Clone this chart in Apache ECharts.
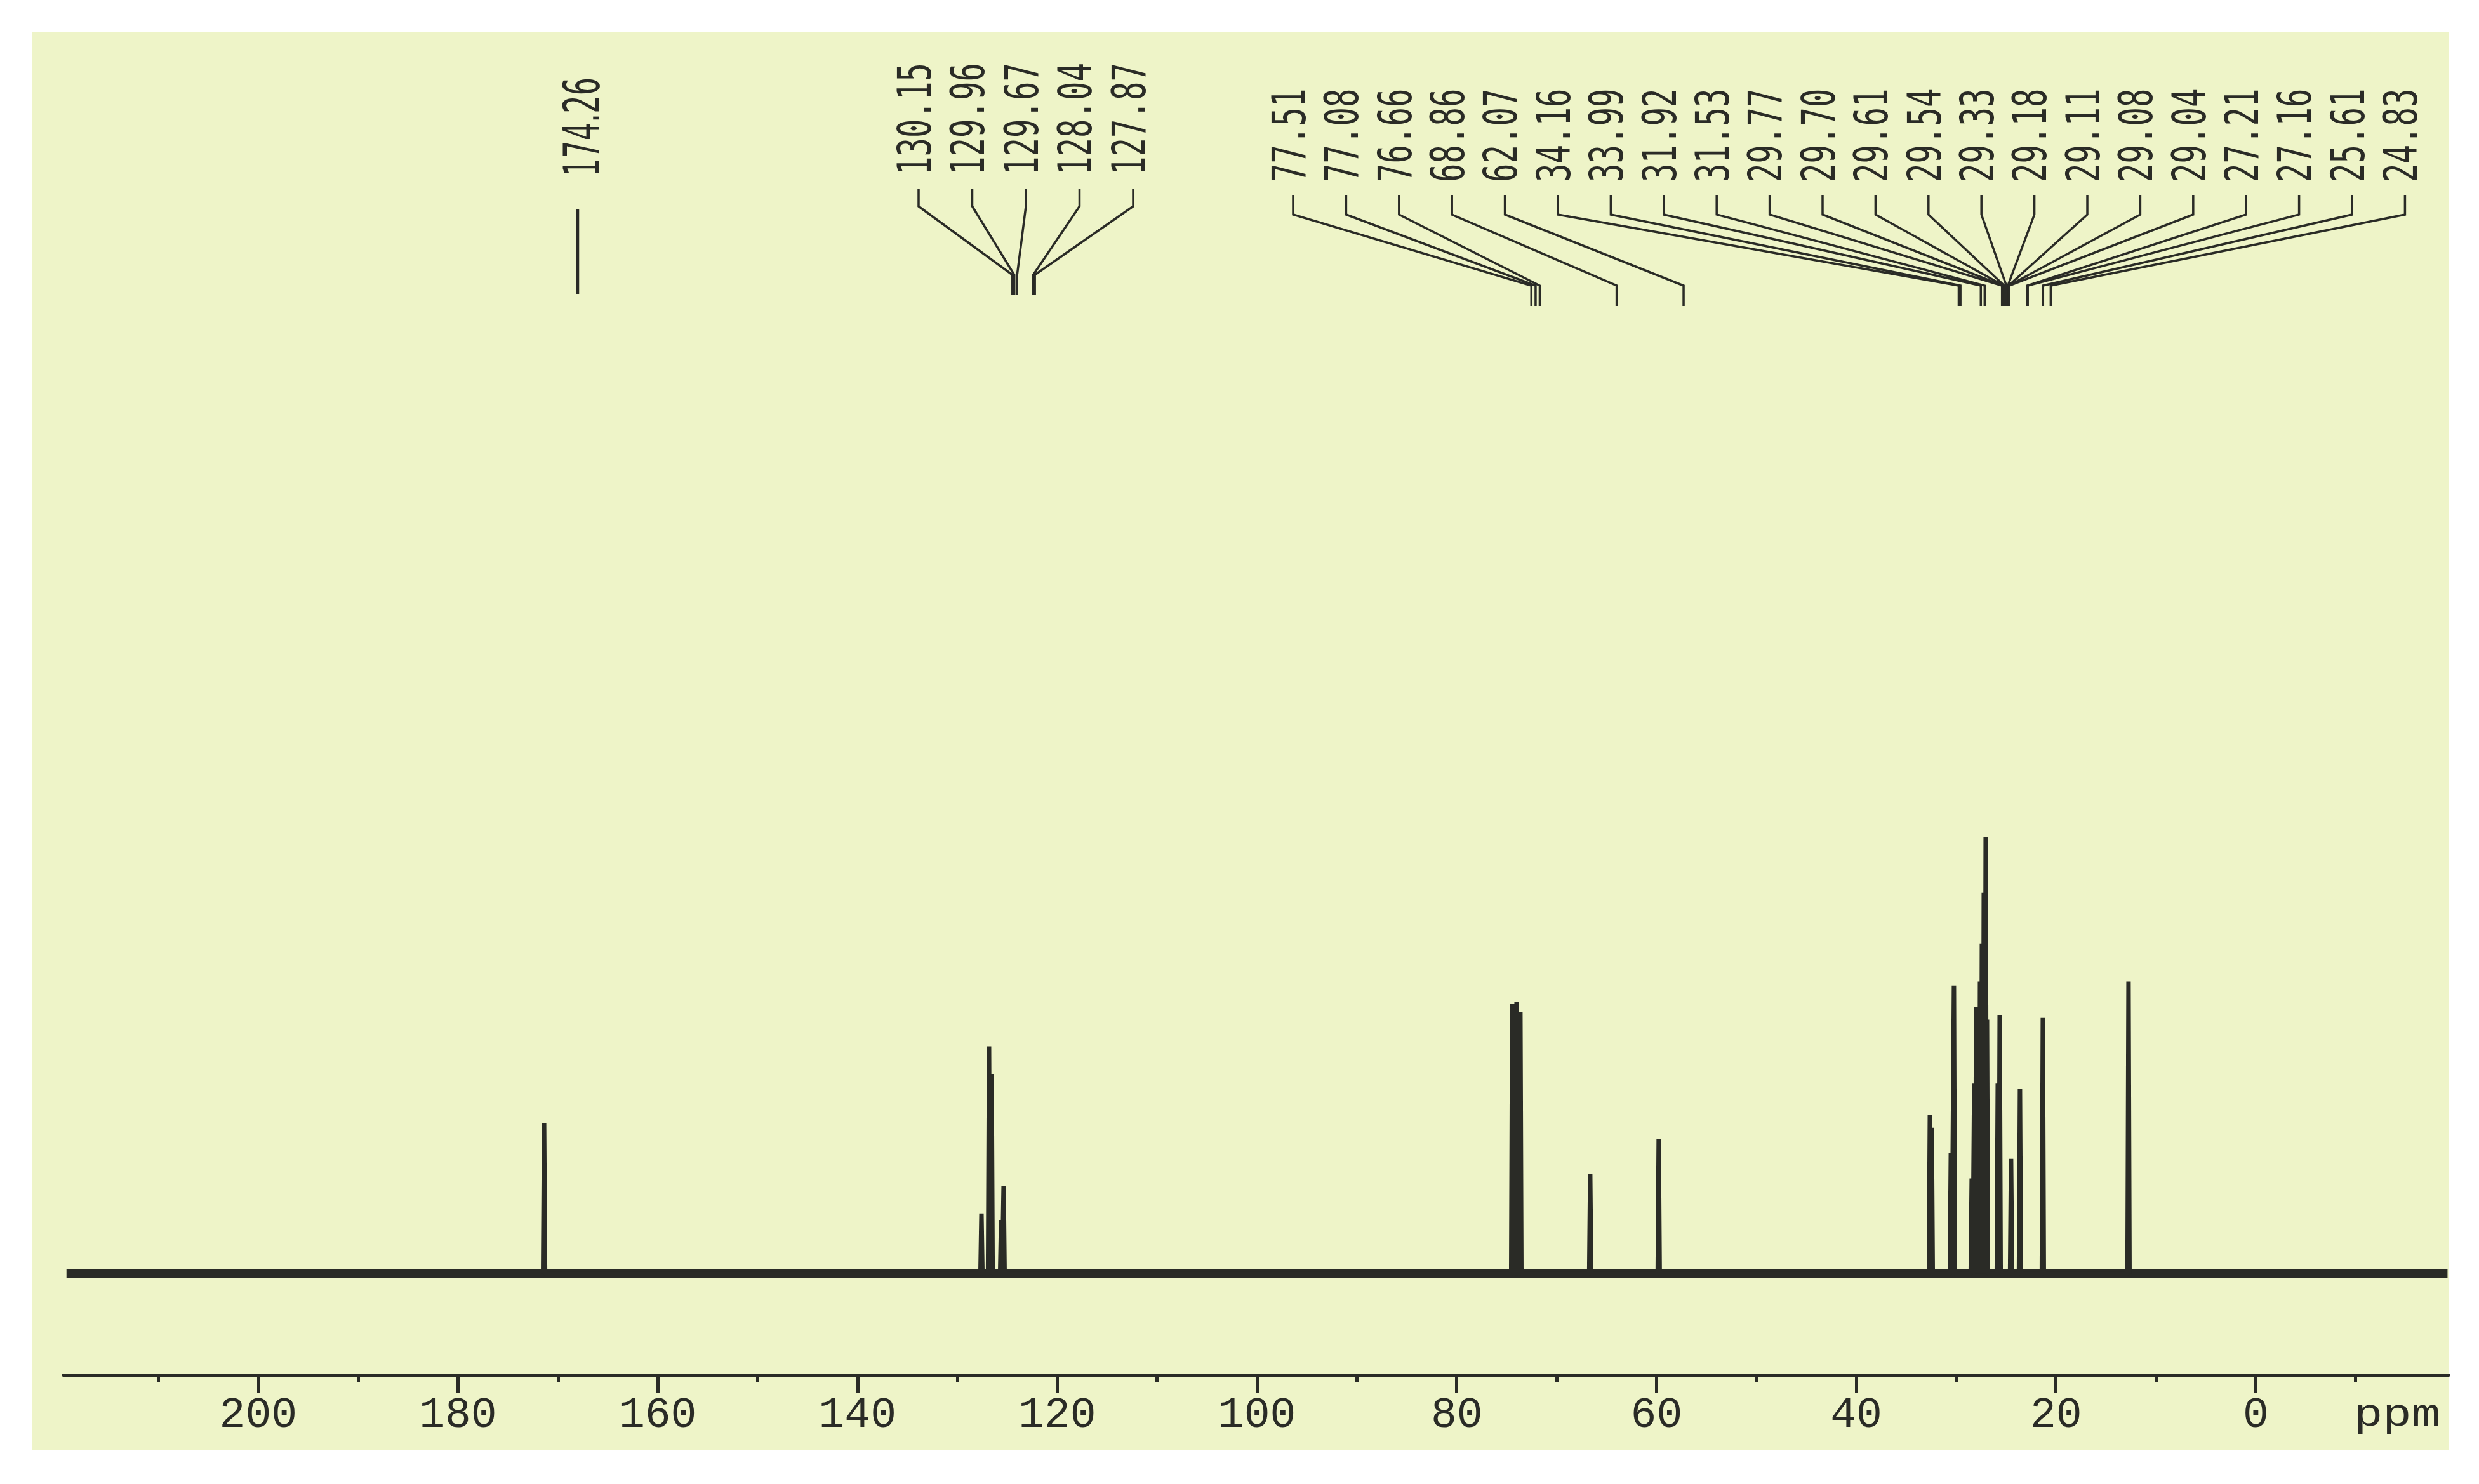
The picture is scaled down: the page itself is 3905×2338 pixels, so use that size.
<!DOCTYPE html>
<html>
<head>
<meta charset="utf-8">
<script src="https://cdn.jsdelivr.net/npm/echarts@6/dist/echarts.min.js"></script>
<style>html,body{margin:0;padding:0;background:#fff}#c{width:3905px;height:2338px}</style>
</head>
<body>
<div id="c"></div>
<script>
// ---- data ----
// peak positions as drawn against the ppm axis, and relative intensities (tallest = 100)
const peakPpm = [171.38, 127.59, 126.83, 126.57, 125.62, 125.37, 74.45, 74.01, 73.63, 66.64, 59.78,
  32.63, 32.44, 30.53, 30.22, 28.44, 28.19, 28.00, 27.80, 27.61, 27.42, 27.23, 27.04, 26.91,
  25.83, 25.64, 24.50, 23.61, 21.32, 12.74];
const peakIntensity = [34.5, 13.8, 52.0, 45.7, 12.3, 20.0, 61.7, 62.1, 59.8, 22.9, 30.9,
  36.3, 33.4, 27.6, 65.9, 21.8, 43.5, 61.0, 55.2, 66.8, 75.5, 87.1, 100, 58.1,
  43.5, 59.2, 26.3, 42.2, 58.5, 66.8];
// spectrum window (ppm)
const spectrumRange = [219.2, -19.2];
// axis ticks / labels
const majorTicks = [0, 20, 40, 60, 80, 100, 120, 140, 160, 180, 200];
const minorTicks = [-10, 10, 30, 50, 70, 90, 110, 130, 150, 170, 190, 210];
const axisUnit = 'ppm';
// peak-pick labels
const annoSingle = ['174.26'];
const annoAromatic = ['130.15', '129.96', '129.67', '128.04', '127.87'];
const annoAliphatic = ['77.51', '77.08', '76.66', '68.86', '62.07', '34.16', '33.99', '31.92', '31.53',
  '29.77', '29.70', '29.61', '29.54', '29.33', '29.18', '29.11', '29.08', '29.04', '27.21', '27.16',
  '25.61', '24.83'];

// ---- build series data ----
const ink = '#2a2b26';
const halfW = 0.1;
const peakData = [];
for (let i = 0; i < peakPpm.length; i++) {
  peakData.push([peakPpm[i] + halfW, 0], [peakPpm[i], peakIntensity[i]], [peakPpm[i] - halfW, 0]);
}
const baselineData = [[spectrumRange[0], 0], [spectrumRange[1], 0]];

const annoText = [];
const annoData = [];
[annoSingle, annoAromatic, annoAliphatic].forEach((arr, g) => {
  arr.forEach((t, s) => { annoText.push(t); annoData.push([parseFloat(t), g, s]); });
});

const annoLayout = [
  { ty: 278, y1: 330, y4: 463, dxText: 14, font: '44.6px "DejaVu Sans"', sy: 1.75 },
  { x0: 1447, dx: 84.5, ty: 276, y1: 297, y2: 325, y3: 433, y4: 465, font: '49px "DejaVu Sans Mono"', sy: 1.48 },
  { x0: 2037, dx: 83.4, ty: 287, y1: 308, y2: 338, y3: 450, y4: 482, font: '49px "DejaVu Sans Mono"', sy: 1.48 }
];

function renderAnno(params, api) {
  const v = api.value(0), g = api.value(1), s = api.value(2);
  const tx = api.coord([v, 0])[0];
  const L = annoLayout[g];
  let lx, pts;
  if (g === 0) {
    lx = tx + L.dxText;
    pts = [[tx, L.y1], [tx, L.y4]];
  } else {
    lx = L.x0 + s * L.dx;
    pts = [[lx, L.y1], [lx, L.y2], [tx, L.y3], [tx, L.y4]];
  }
  return {
    type: 'group',
    children: [
      { type: 'polyline', shape: { points: pts }, style: { stroke: ink, lineWidth: g === 0 ? 5 : 3.5, fill: 'none' } },
      { type: 'text', x: lx, y: L.ty, rotation: Math.PI / 2, scaleY: L.sy,
        style: { text: annoText[params.dataIndex], font: L.font, fill: ink, align: 'left', verticalAlign: 'middle' } }
    ]
  };
}

const chart = echarts.init(document.getElementById('c'), null, { renderer: 'canvas' });
chart.setOption({
  animation: false,
  backgroundColor: '#ffffff',
  graphic: [
    { type: 'rect', z: -100, shape: { x: 50, y: 50, width: 3808, height: 2235 }, style: { fill: '#eef4c8' } },
    { type: 'text', x: 3708, y: 2230, scaleY: 0.85, scaleX: 1.05, style: { text: axisUnit, font: '72px "Liberation Mono"', fill: ink, verticalAlign: 'middle', align: 'left' } }
  ],
  grid: [
    { left: 100, right: 48, top: 1249, bottom: 172 },
    { left: 510, right: 289, top: 50, height: 450 }
  ],
  xAxis: [
    { gridIndex: 0, type: 'value', min: -19.3, max: 219.5, inverse: true, position: 'bottom',
      axisLine: { onZero: false, lineStyle: { color: ink, width: 5 } },
      splitLine: { show: false },
      axisTick: { customValues: majorTicks, length: 28, lineStyle: { color: ink, width: 5 } },
      axisLabel: { customValues: majorTicks, margin: 30, fontFamily: 'Liberation Mono', fontSize: 68, color: ink } },
    { gridIndex: 0, type: 'value', min: -19.3, max: 219.5, inverse: true, position: 'bottom',
      axisLine: { show: false, onZero: false }, splitLine: { show: false },
      axisTick: { customValues: minorTicks, length: 12, lineStyle: { color: ink, width: 5 } },
      axisLabel: { show: false } },
    { gridIndex: 1, type: 'value', min: 0, max: 200, inverse: true, show: false, splitLine: { show: false } }
  ],
  yAxis: [
    { gridIndex: 0, type: 'value', min: -23.1, max: 110, show: false, splitLine: { show: false } },
    { gridIndex: 1, type: 'value', min: 0, max: 1, show: false, splitLine: { show: false } }
  ],
  series: [
    { type: 'line', xAxisIndex: 0, yAxisIndex: 0, data: baselineData, showSymbol: false, silent: true,
      lineStyle: { color: ink, width: 14 } },
    { type: 'line', xAxisIndex: 0, yAxisIndex: 0, data: peakData, showSymbol: false, silent: true,
      lineStyle: { color: ink, width: 7, join: 'bevel' } },
    { type: 'custom', xAxisIndex: 2, yAxisIndex: 1, data: annoData, renderItem: renderAnno, clip: false, silent: true }
  ]
});
</script>
</body>
</html>
